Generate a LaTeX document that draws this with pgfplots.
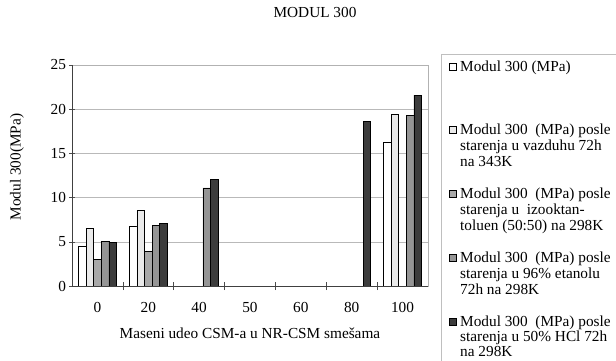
\documentclass[border=0pt]{standalone}
\usepackage{pgfplots}
\pgfplotsset{compat=1.18}
\usepackage{fontspec}
\setmainfont{Liberation Serif}
\definecolor{cA}{HTML}{FFFFFF}
\definecolor{cB}{HTML}{EAEAEA}
\definecolor{cC}{HTML}{A8A8A8}
\definecolor{cD}{HTML}{959595}
\definecolor{cE}{HTML}{3C3C3C}
\newcommand{\fs}{\fontsize{15.3}{16}\selectfont}
\begin{document}
\begin{tikzpicture}
\useasboundingbox (0pt,0pt) rectangle (616pt,360pt);
\begin{axis}[
  at={(72pt,74pt)}, anchor=south west,
  scale only axis, width=356pt, height=221pt,
  xmin=-0.5, xmax=6.5, ymin=0, ymax=25,
  ybar=0pt, bar width=7.6pt,
  xtick={0,...,6},
  xticklabels={0,20,40,50,60,80,100},
  major x tick style={draw=none},
  minor xtick={0.5,1.5,2.5,3.5,4.5,5.5},
  minor tick length=8pt,
  tick align=center,
  xtick pos=bottom, ytick pos=left,
  ytick={0,5,...,25},
  major tick length=5pt,
  ymajorgrids,
  grid style={gray!55, line width=0.5pt},
  axis line style={gray!60, line width=0.5pt},
  tick style={black!70, line width=0.5pt},
  /pgf/number format/assume math mode=true,
  tick label style={font=\fs},
  xticklabel style={anchor=north, yshift=-10pt},
  yticklabel style={anchor=east},
  xlabel={Maseni udeo CSM-a u NR-CSM smešama},
  xlabel style={font=\fs, at={(axis description cs:0.5,-0.2127)}, anchor=center},
  ylabel={Modul 300(MPa)},
  ylabel style={font=\fs, at={(axis description cs:-0.1545,0.538)}, anchor=center},
  title={MODUL 300},
  title style={font=\fs, at={(axis description cs:0.6826,1.2127)}, anchor=center},
  every axis plot/.append style={draw=black, line width=0.6pt},
]
\addplot[fill=cA] coordinates {(0,4.5) (1,6.7) (6,16.2)};
\addplot[fill=cB] coordinates {(0,6.5) (1,8.55) (6,19.45)};
\addplot[fill=cC] coordinates {(0,3.05) (1,3.9)};
\addplot[fill=cD] coordinates {(0,5.05) (1,6.9) (2,11.1) (6,19.3)};
\addplot[fill=cE] coordinates {(0,4.95) (1,7.1) (2,12.1) (5,18.6) (6,21.6)};
\draw[black!75, line width=0.6pt] (rel axis cs:0,1) -- (rel axis cs:0,0) -- (rel axis cs:1,0);
\end{axis}
% legend
\draw[gray!50, line width=0.5pt] (441pt,306pt) -- (630pt,306pt);
\draw[gray!50, line width=0.5pt] (441pt,306pt) -- (441pt,-10pt);
\def\mk#1#2{\draw[black, line width=0.5pt, fill=#1] (449pt,{360pt-#2pt-3.5pt}) rectangle (456.5pt,{360pt-#2pt+4pt});}
\def\ln#1#2{\node[anchor=base west, inner sep=0pt, font=\fs] at (460pt,{360pt-#1pt}) {#2};}
\mk{cA}{67}
\ln{71.5}{Modul 300 (MPa)}
\mk{cB}{130}
\ln{134.5}{Modul 300\ \ (MPa) posle}
\ln{150.5}{starenja u vazduhu 72h}
\ln{166.5}{na 343K}
\mk{cC}{194}
\ln{198.5}{Modul 300\ \ (MPa) posle}
\ln{214.5}{starenja u\ \ izooktan-}
\ln{230.5}{toluen (50:50) na 298K}
\mk{cD}{258}
\ln{262.5}{Modul 300\ \ (MPa) posle}
\ln{278.5}{starenja u 96\% etanolu}
\ln{294.5}{72h na 298K}
\mk{cE}{322}
\ln{326.5}{Modul 300\ \ (MPa) posle}
\ln{341.5}{starenja u 50\% HCl 72h}
\ln{356.5}{na 298K}
\end{tikzpicture}
\end{document}
